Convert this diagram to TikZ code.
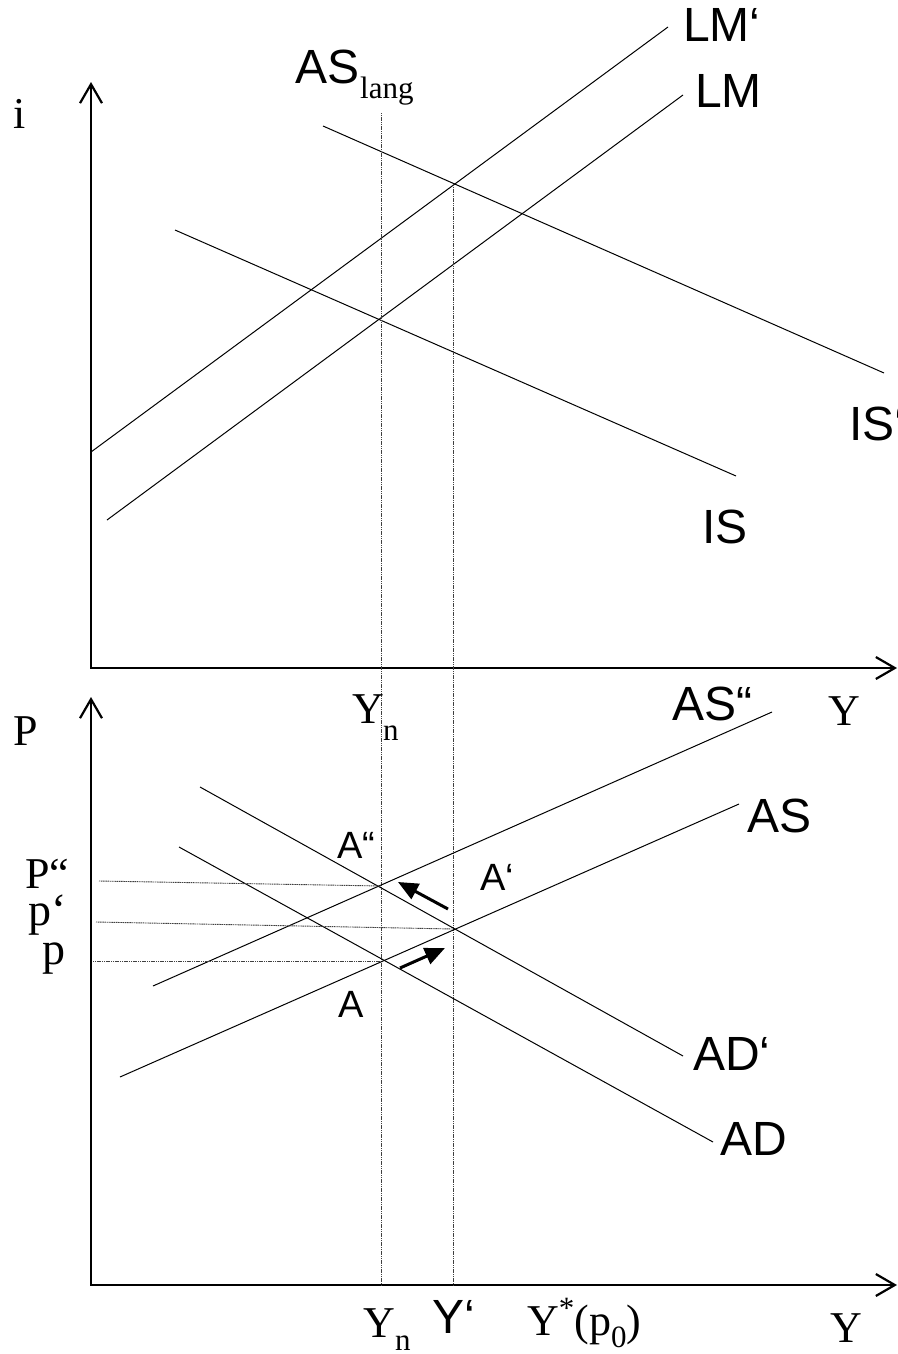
\documentclass[tikz,border=0pt]{standalone}
\usepackage{fontspec}
\setmainfont{Liberation Serif}
\newfontfamily\arialf{Liberation Sans}
\usetikzlibrary{arrows.meta}
\tikzset{
  curve/.style={line width=1pt, black},
  guide/.style={line width=0.9pt, black!75, dash pattern=on 1.2pt off 0.6pt},
  axisline/.style={line width=2.6pt, line join=miter,
    {Straight Barb[length=19pt,width=22pt,line width=2.2pt]}-{Straight Barb[length=19pt,width=22pt,line width=2.2pt]}},
  shiftarrow/.style={line width=3pt, -{Triangle[length=20pt,width=17pt]}},
  slab/.style={inner sep=0pt, anchor=base west, font=\arialf\fontsize{48}{50}\selectfont},
  smlab/.style={inner sep=0pt, anchor=base west, font=\arialf\fontsize{38}{40}\selectfont},
  tlab/.style={inner sep=0pt, anchor=base west, font=\fontsize{44}{46}\selectfont},
  plab/.style={inner sep=0pt, anchor=base west, font=\fontsize{46}{48}\selectfont},
  sublab/.style={inner sep=0pt, anchor=base west, font=\fontsize{31}{32}\selectfont}
}
\begin{document}
\begin{tikzpicture}[x=1pt,y=-1pt]
\useasboundingbox (0,0) rectangle (897,1354);
% axes
\draw[axisline] (91,82) -- (91,668) -- (897,668);
\draw[axisline] (91,697) -- (91,1285) -- (897,1285);
% top panel curves
\coordinate (LMpa) at (91,452);  \coordinate (LMpb) at (668,27);
\coordinate (LMa)  at (107,520); \coordinate (LMb)  at (683,95);
\coordinate (ISpa) at (323,126); \coordinate (ISpb) at (884,373);
\coordinate (ISa)  at (175,230); \coordinate (ISb)  at (736,476);
\draw[curve] (LMpa) -- (LMpb);
\draw[curve] (LMa) -- (LMb);
\draw[curve] (ISpa) -- (ISpb);
\draw[curve] (ISa) -- (ISb);
% vertical guides
\coordinate (YnTop) at (381,113); \coordinate (YnBot) at (381,1285);
\coordinate (YpTop) at (453,185); \coordinate (YpBot) at (453,1285);
\draw[guide] (YnTop) -- (YnBot);
\draw[guide] (YpTop) -- (YpBot);
% bottom panel curves
\coordinate (ASppa) at (153,986); \coordinate (ASppb) at (772,712);
\coordinate (ASa) at (120,1077);  \coordinate (ASb) at (739,804);
\coordinate (ADpa) at (200,787);  \coordinate (ADpb) at (683,1056);
\coordinate (ADa) at (179,847);   \coordinate (ADb) at (713,1142);
\draw[curve] (ASppa) -- (ASppb);
\draw[curve] (ASa) -- (ASb);
\draw[curve] (ADpa) -- (ADpb);
\draw[curve] (ADa) -- (ADb);
% price guides
\coordinate (Pppa) at (99,881);  \coordinate (Ppp) at (381,886);
\coordinate (Ppa) at (96,922);   \coordinate (Pp) at (453,929);
\coordinate (Pa) at (93,961);    \coordinate (P0) at (381,961);
\draw[guide] (Pppa) -- (Ppp);
\draw[guide] (Ppa) -- (Pp);
\draw[guide] (Pa) -- (P0);
% shift arrows
\coordinate (ar1a) at (448,909); \coordinate (ar1b) at (398,882);
\coordinate (ar2a) at (400,968); \coordinate (ar2b) at (445,948);
\draw[shiftarrow] (ar1a) -- (ar1b);
\draw[shiftarrow] (ar2a) -- (ar2b);
% labels top
\node[slab] (lLMp) at (683,42) {LM‘};
\node[slab] (lLM) at (695,107) {LM};
\node[slab] (lASl) at (295,83) {AS};
\node[sublab] (lASlsub) at (360,98) {lang};
\node[tlab] (li) at (13,128) {i};
\node[slab] (lISp) at (849,440) {IS‘};
\node[slab] (lIS) at (702,543) {IS};
\node[tlab] (lY1) at (828,725) {Y};
\node[tlab] (lYn1) at (352,723) {Y};
\node[sublab] (lYn1s) at (383,740) {n};
% labels bottom
\node[tlab] (lP) at (13,745) {P};
\node[slab] (lASpp) at (672,720) {AS“};
\node[slab] (lAS) at (747,832) {AS};
\node[slab] (lADp) at (693,1070) {AD‘};
\node[slab] (lAD) at (720,1155) {AD};
\node[smlab] (lApp) at (337,858) {A“};
\node[smlab] (lAp) at (480,890) {A‘};
\node[smlab] (lA) at (338,1017) {A};
\node[tlab] (lPpp) at (25,888) {P“};
\node[plab] (lpp) at (28,925) {p‘};
\node[plab] (lp) at (42,964) {p};
\node[tlab] (lYn2) at (363,1337) {Y};
\node[sublab] (lYn2s) at (395,1350) {n};
\node[slab] (lYp) at (432,1333) {Y‘};
\node[tlab] (lYs) at (527,1335) {Y\raisebox{17pt}{\fontsize{31}{32}\selectfont *}(p\raisebox{-12pt}{\fontsize{31}{32}\selectfont 0})};
\node[tlab] (lY2) at (830,1342) {Y};
\end{tikzpicture}
\end{document}
